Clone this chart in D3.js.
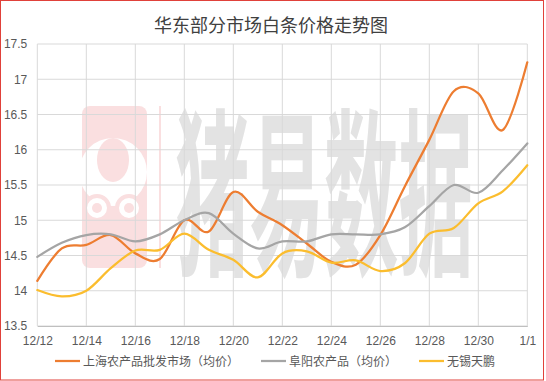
<!DOCTYPE html>
<html><head><meta charset="utf-8">
<script src="https://cdn.jsdelivr.net/npm/d3@7"></script>
<style>body{margin:0;background:#fff}svg{display:block}</style>
</head><body><svg id="c" width="546" height="381"></svg>
<script>
const dates = ["12/12","12/13","12/14","12/15","12/16","12/17","12/18","12/19","12/20","12/21","12/22","12/23","12/24","12/25","12/26","12/27","12/28","12/29","12/30","12/31","1/1"];
const tickLabels = ["12/12","12/14","12/16","12/18","12/20","12/22","12/24","12/26","12/28","12/30","1/1"];
const shanghai = [14.14,14.6,14.65,14.79,14.53,14.45,15.0,14.84,15.4,15.12,14.93,14.67,14.41,14.37,14.79,15.48,16.14,16.83,16.8,16.28,17.24];
const fuyang = [14.48,14.68,14.79,14.8,14.7,14.8,15.0,15.1,14.81,14.6,14.7,14.7,14.8,14.8,14.8,14.9,15.2,15.5,15.39,15.71,16.09];
const wuxi = [14.01,13.92,14.0,14.32,14.57,14.58,14.81,14.58,14.44,14.19,14.53,14.56,14.4,14.43,14.28,14.39,14.81,14.89,15.24,15.41,15.78];
const yTicks = [13.5,14,14.5,15,15.5,16,16.5,17,17.5];
const seriesNames = ["上海农产品批发市场（均价）","阜阳农产品（均价）","无锡天鹏"];
const seriesColors = ["#ED7D31","#A5A5A5","#FBBD2E"];
const title = "华东部分市场白条价格走势图";

const svg = d3.select("#c");
const font = "'Liberation Sans','Noto Sans CJK SC',sans-serif";
svg.append("rect").attr("x",0.5).attr("y",0.5).attr("width",543).attr("height",379.5)
  .attr("fill","#fff").attr("stroke","#E0413A").attr("stroke-width",1);

const L=37.3,R=527.3,T=44,B=326;
const x = d3.scalePoint().domain(dates).range([L,R]);
const y = d3.scaleLinear().domain([13.5,17.5]).range([B,T]);

// watermark
const wm = svg.append("g");
wm.append("rect").attr("x",82).attr("y",106).attr("width",65).attr("height",162).attr("rx",8).attr("fill","#FADFE0");
wm.append("circle").attr("cx",113).attr("cy",172).attr("r",34).attr("fill","#fff");
wm.append("ellipse").attr("cx",113).attr("cy",160).attr("rx",16).attr("ry",22).attr("fill","#FADFE0");
wm.append("circle").attr("cx",97).attr("cy",208).attr("r",12).attr("fill","#fff").attr("stroke","#FADFE0").attr("stroke-width",4);
wm.append("circle").attr("cx",129).attr("cy",208).attr("r",12).attr("fill","#fff").attr("stroke","#FADFE0").attr("stroke-width",4);
wm.append("circle").attr("cx",97).attr("cy",208).attr("r",5).attr("fill","#FADFE0");
wm.append("circle").attr("cx",129).attr("cy",208).attr("r",5).attr("fill","#FADFE0");
wm.append("rect").attr("x",159).attr("y",106).attr("width",2).attr("height",162).attr("fill","#FADFE0");
wm.append("text").attr("transform","translate(175,261) scale(1,2.43)")
  .attr("font-family","'Noto Sans CJK SC'").attr("font-weight","bold").attr("font-size",74)
  .attr("fill","#E3E3E3").attr("textLength",298).attr("lengthAdjust","spacingAndGlyphs").text("猪易数据");

// grid
svg.append("g").selectAll("line").data(yTicks).join("line")
  .attr("x1",L).attr("x2",R).attr("y1",d=>y(d)).attr("y2",d=>y(d))
  .attr("stroke","#D9D9D9").attr("stroke-width",1);
svg.append("g").selectAll("line").data(tickLabels).join("line")
  .attr("x1",d=>x(d)).attr("x2",d=>x(d)).attr("y1",T).attr("y2",B)
  .attr("stroke","#D9D9D9").attr("stroke-width",1);

// axes
const ya = svg.append("g").attr("transform",`translate(${L},0)`)
  .call(d3.axisLeft(y).tickValues(yTicks).tickSize(0).tickPadding(10).tickFormat(d=>d));
ya.select(".domain").remove();
ya.selectAll("text").attr("font-family",font).attr("font-size",12).attr("fill","#595959");
const xa = svg.append("g").attr("transform",`translate(0,${B})`)
  .call(d3.axisBottom(x).tickValues(tickLabels).tickSize(0).tickPadding(10));
xa.select(".domain").attr("stroke","#BFBFBF");
xa.selectAll("text").attr("font-family",font).attr("font-size",12).attr("fill","#595959");

// lines
const line = d3.line().x((d,i)=>x(dates[i])).y(d=>y(d)).curve(d3.curveCardinal);
[shanghai,fuyang,wuxi].forEach((s,k)=>{
  svg.append("path").datum(s).attr("d",line).attr("fill","none")
    .attr("stroke",seriesColors[k]).attr("stroke-width",2.25).attr("stroke-linecap","round");
});

// title
svg.append("text").attr("x",271).attr("y",32).attr("text-anchor","middle")
  .attr("font-family","'Noto Sans CJK SC'").attr("font-size",18).attr("fill","#404040").text(title);

// legend
const lx = [55,261,419];
const lg = svg.append("g");
seriesNames.forEach((n,k)=>{
  lg.append("line").attr("x1",lx[k]).attr("x2",lx[k]+25).attr("y1",361).attr("y2",361)
    .attr("stroke",seriesColors[k]).attr("stroke-width",2.25);
  lg.append("text").attr("x",lx[k]+28).attr("y",365.5).attr("font-family","'Noto Sans CJK SC'")
    .attr("font-size",12).attr("fill","#595959").text(n);
});
</script></body></html>
